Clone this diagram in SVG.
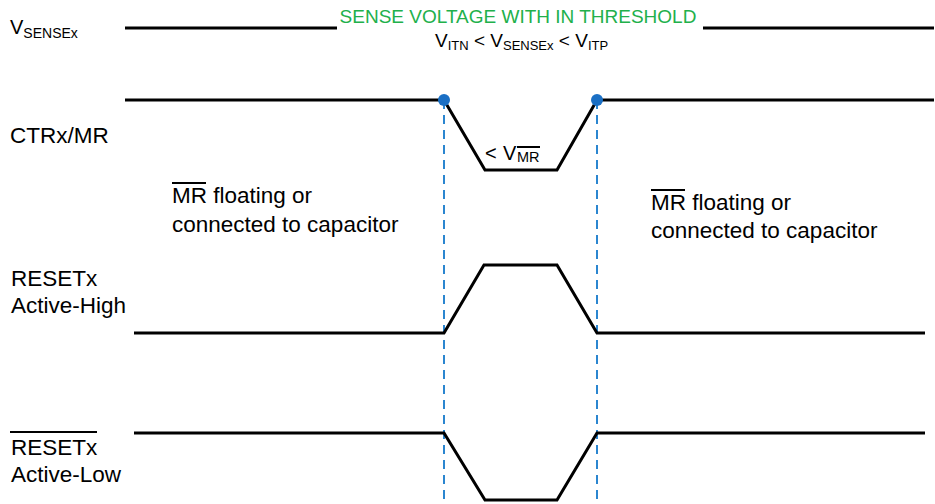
<svg xmlns="http://www.w3.org/2000/svg" width="935" height="504" viewBox="0 0 935 504">
<style>
text{font-family:"Liberation Sans",Arial,sans-serif;fill:#000}
.lbl{font-size:22.5px}
.sig{fill:none;stroke:#000;stroke-width:3;stroke-linejoin:miter}
.dash{stroke:#2b86d0;stroke-width:2;stroke-dasharray:9,6;fill:none}
.ovl{stroke:#000;stroke-width:2}
.dot{fill:#1a6fc4}
</style>
<rect width="935" height="504" fill="#fff"/>
<g id="guides">
<line class="dash" x1="444" y1="100" x2="444" y2="504"/>
<line class="dash" x1="597" y1="100" x2="597" y2="504"/>
</g>
<g id="connectors">
<polyline class="sig" points="125,28 337,28"/>
<polyline class="sig" points="703,28 934,28"/>
<polyline class="sig" points="125,100 444,100 485,170 557,170 597,100 934,100"/>
<polyline class="sig" points="134,333 444,333 484,265 557,265 597,333 925,333"/>
<polyline class="sig" points="134,433 444,433 485,500 557,500 597,433 925,433"/>
</g>
<g id="dots">
<circle class="dot" cx="444" cy="100" r="6"/>
<circle class="dot" cx="597" cy="100" r="6"/>
</g>
<g id="vsense-label">
<text x="10" y="34" font-size="20">V<tspan font-size="14" dy="4">SENSEx</tspan></text>
</g>
<g id="threshold-label">
<text x="518" y="23" font-size="19" text-anchor="middle" style="fill:#21b04b">SENSE VOLTAGE WITH IN THRESHOLD</text>
<text x="435" y="47" font-size="19">V<tspan font-size="13" dy="3">ITN</tspan><tspan dy="-3"> &lt; V</tspan><tspan font-size="13" dy="3">SENSEx</tspan><tspan dy="-3"> &lt; V</tspan><tspan font-size="13" dy="3">ITP</tspan></text>
</g>
<g id="ctr-label">
<text class="lbl" x="10" y="143">CTRx/MR</text>
</g>
<g id="vmr-label">
<text x="485" y="160" font-size="20">&lt;<tspan x="503">V</tspan><tspan x="517" font-size="14.5" dy="2">MR</tspan></text>
<line class="ovl" x1="517" y1="147" x2="540" y2="147"/>
</g>
<g id="mr-left">
<text class="lbl" x="172" y="203">MR floating or</text>
<text class="lbl" x="172" y="232">connected to capacitor</text>
<line class="ovl" x1="172" y1="183" x2="206" y2="183"/>
</g>
<g id="mr-right">
<text class="lbl" x="651" y="210">MR floating or</text>
<text class="lbl" x="651" y="238">connected to capacitor</text>
<line class="ovl" x1="651" y1="190" x2="685" y2="190"/>
</g>
<g id="reset-high-label">
<text class="lbl" x="11" y="286">RESETx</text>
<text class="lbl" x="11" y="313">Active-High</text>
</g>
<g id="reset-low-label">
<line class="ovl" x1="10" y1="432" x2="97" y2="432"/>
<text class="lbl" x="11" y="455">RESETx</text>
<text class="lbl" x="11" y="482">Active-Low</text>
</g>
</svg>
